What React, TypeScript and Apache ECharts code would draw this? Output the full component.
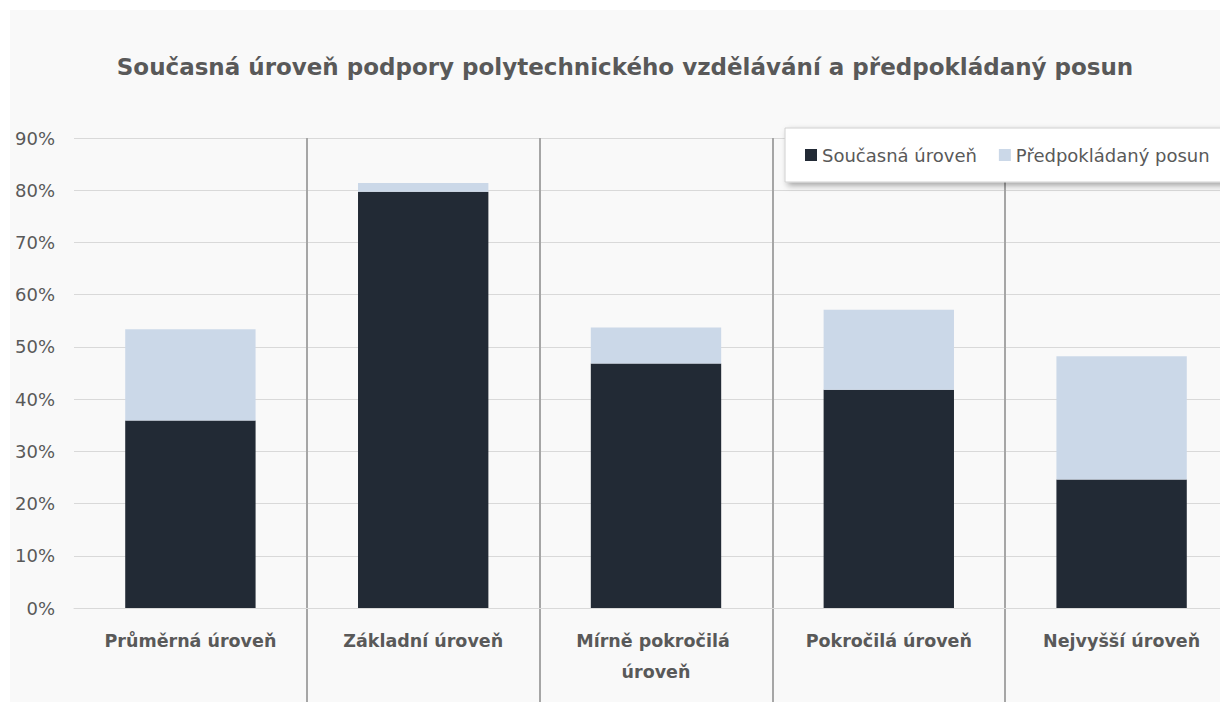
import React, { useEffect, useRef } from "react";
import * as echarts from "echarts";

const titleText = "Současná úroveň podpory polytechnického vzdělávání a předpokládaný posun";
const categories = [
  "Průměrná úroveň",
  "Základní úroveň",
  "Mírně pokročilá úroveň",
  "Pokročilá úroveň",
  "Nejvyšší úroveň",
];
const seriesNames = ["Současná úroveň", "Předpokládaný posun"];
const currentLevel = [35.9, 79.7, 46.8, 41.8, 24.6];
const expectedShift = [17.5, 1.7, 6.9, 15.3, 23.6];
const yMin = 0;
const yMax = 90;
const yStep = 10;

const FONT = "DejaVu Sans";
const TEXT = "#595959";

export default function App() {
  const ref = useRef<HTMLDivElement>(null);
  useEffect(() => {
    if (!ref.current) return;
    const chart = echarts.init(ref.current, undefined, { renderer: "svg" });
    const gridPos = { left: 64, right: 0, top: 128, bottom: 94 };
    chart.setOption({
      animation: false,
      backgroundColor: "transparent",
      textStyle: { fontFamily: FONT },
      graphic: [
        {
          type: "text",
          x: 615,
          y: 57,
          style: {
            text: titleText,
            fill: TEXT,
            font: `bold 23px "${FONT}"`,
            textAlign: "center",
            textVerticalAlign: "middle",
          },
        },
      ],
      legend: {
        data: seriesNames,
        orient: "horizontal",
        left: 775,
        top: 118,
        width: 540,
        padding: [18, 40, 18, 20],
        backgroundColor: "#ffffff",
        borderColor: "#d0d0d0",
        borderWidth: 1,
        shadowBlur: 6,
        shadowColor: "rgba(0,0,0,0.35)",
        shadowOffsetX: 3,
        shadowOffsetY: 3,
        icon: "rect",
        itemWidth: 12,
        itemHeight: 12,
        itemGap: 22,
        textStyle: { fontFamily: FONT, fontSize: 18, color: TEXT },
      },
      grid: [
        { ...gridPos },
        { left: gridPos.left, right: gridPos.right, top: gridPos.top, bottom: 0 },
      ],
      xAxis: [
        {
          type: "category",
          data: categories,
          gridIndex: 0,
          axisLine: { show: true, lineStyle: { color: "#d9d9d9", width: 1 } },
          axisTick: { show: false },
          axisLabel: {
            color: TEXT,
            fontFamily: FONT,
            fontWeight: "bold",
            fontSize: 17.5,
            margin: 17,
            lineHeight: 31,
            width: 205,
            overflow: "break",
            interval: 0,
          },
          splitLine: { show: false },
        },
        {
          type: "value",
          gridIndex: 1,
          min: 0,
          max: categories.length,
          interval: 1,
          axisLine: { show: false },
          axisTick: { show: false },
          axisLabel: { show: false },
          splitLine: {
            show: true,
            showMinLine: false,
            showMaxLine: false,
            lineStyle: { color: "#a6a6a6", width: 2 },
          },
        },
      ],
      yAxis: [
        {
          type: "value",
          gridIndex: 0,
          min: yMin,
          max: yMax,
          interval: yStep,
          axisLine: { show: false },
          axisTick: { show: false },
          axisLabel: {
            formatter: "{value}%",
            color: TEXT,
            fontFamily: FONT,
            fontSize: 18,
            margin: 19,
          },
          splitLine: { show: true, lineStyle: { color: "#d9d9d9", width: 1 } },
        },
        {
          type: "value",
          gridIndex: 1,
          show: false,
          min: 0,
          max: 1,
        },
      ],
      series: [
        {
          name: seriesNames[0],
          type: "bar",
          stack: "total",
          xAxisIndex: 0,
          yAxisIndex: 0,
          barWidth: "56%",
          itemStyle: { color: "#222a35" },
          data: currentLevel,
        },
        {
          name: seriesNames[1],
          type: "bar",
          stack: "total",
          xAxisIndex: 0,
          yAxisIndex: 0,
          barWidth: "56%",
          itemStyle: { color: "#cbd8e8" },
          data: expectedShift,
        },
      ],
    });
    return () => chart.dispose();
  }, []);
  return (
    <div style={{ position: "fixed", inset: 0, background: "#ffffff", overflow: "hidden" }}>
      <div
        ref={ref}
        style={{
          position: "absolute",
          left: 10,
          top: 10,
          width: 1228,
          height: 692,
          background: "#f9f9f9",
        }}
      />
    </div>
  );
}
